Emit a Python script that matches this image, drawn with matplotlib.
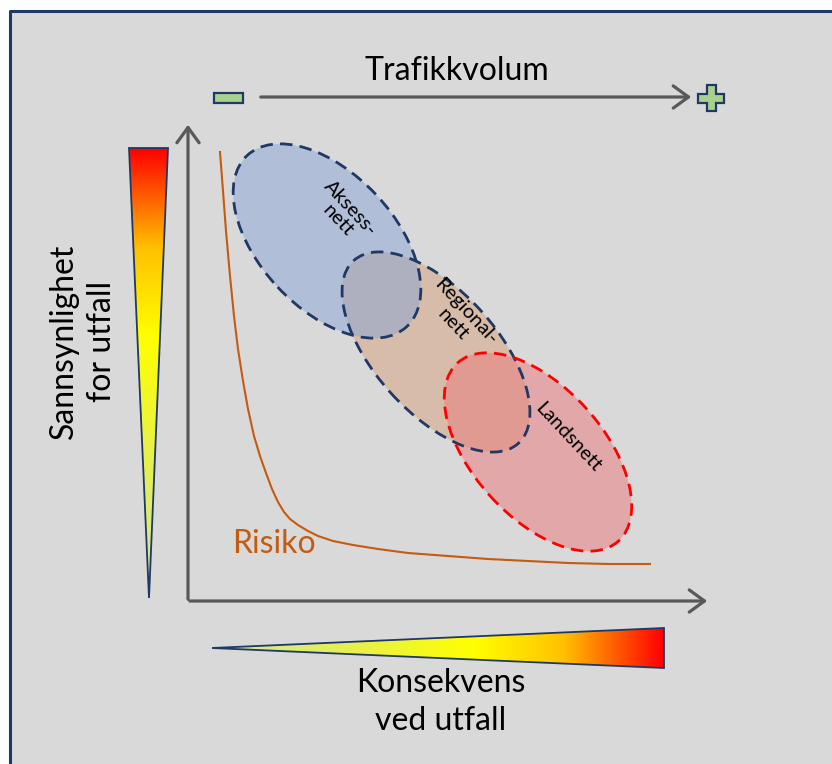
import numpy as np
import matplotlib.pyplot as plt
from matplotlib.patches import Ellipse, Polygon, Rectangle, FancyArrowPatch
from matplotlib.colors import LinearSegmentedColormap

plt.rcParams['font.family'] = ['Lato', 'DejaVu Sans']

# risikokurve (konsekvens, sannsynlighet)
risk_x = [32, 35, 38, 42, 46, 50, 55, 60, 66, 72, 78, 84, 90, 96, 102, 110, 120, 130,
          145, 165, 190, 220, 260, 300, 340, 380, 420, 462]
risk_y = [449, 410, 370, 325, 285, 252, 220, 192, 165, 145, 128, 112, 99, 89, 82, 76,
          70, 65, 60, 56, 52, 48, 45, 42, 40, 38, 37, 37]

# nettnivaa som ellipser i samme rom
net_labels = ["Aksess-\nnett", "Regional-\nnett", "Landsnett"]
net_cx = [139, 248, 350]
net_cy = [360, 249, 149]
net_w = [234, 246, 240]
net_h = [135, 122, 130]
net_angle = [-47, -48, -48]
net_face = ['#8aa5d6', '#d5a17b', '#eb797b']
net_edge = ['#1f3864', '#1f3864', '#ff0000']
net_z = [3, 2, 4]
label_x = [156, 271, 380]
label_y = [387, 283, 164]

W, H = 832, 764
fig = plt.figure(figsize=(W / 100, H / 100), dpi=100)

# bakgrunn i pikselkoordinater
bg = fig.add_axes([0, 0, 1, 1])
bg.set_xlim(0, W)
bg.set_ylim(H, 0)
bg.axis('off')
bg.add_patch(Rectangle((10, 11), W, H, facecolor='#d9d9d9', edgecolor='none', zorder=0))
bg.plot([10, 10, W], [H, 11, 11], color='#1f3864', lw=2.2, solid_capstyle='butt', zorder=1)

grey = '#595959'


def arrow(ax, p0, p1):
    a = FancyArrowPatch(p0, p1, arrowstyle='->,head_length=11,head_width=8',
                        mutation_scale=1, color=grey, lw=2.3, zorder=3)
    ax.add_patch(a)


arrow(bg, (188, 602), (188, 122))
arrow(bg, (187, 601), (710, 601))
arrow(bg, (258, 97), (694, 97))

# minus og pluss
bg.add_patch(Rectangle((214, 93), 29, 10, facecolor='#a9d18e', edgecolor='#1f3864', lw=1.6, zorder=4))
px, py, s, t = 711, 98, 13, 4.5
plus = [(px - t, py - s), (px + t, py - s), (px + t, py - t), (px + s, py - t), (px + s, py + t),
        (px + t, py + t), (px + t, py + s), (px - t, py + s), (px - t, py + t), (px - s, py + t),
        (px - s, py - t), (px - t, py - t)]
bg.add_patch(Polygon(plus, closed=True, facecolor='#a9d18e', edgecolor='#1f3864', lw=1.6, zorder=4))

# gradient-trekanter
cmap = LinearSegmentedColormap.from_list(
    'risk', [(0, '#d2e8a4'), (0.3, '#e6f04e'), (0.58, '#ffff00'), (0.78, '#ffc000'), (1, '#ff0000')])

vtri = Polygon([(129, 148), (168, 148), (149, 598)], closed=True, facecolor='none',
               edgecolor='#1f3864', lw=1.3, zorder=3)
bg.add_patch(vtri)
im = bg.imshow(np.linspace(1, 0, 256)[:, None], cmap=cmap, extent=(129, 168, 598, 148),
               origin='upper', aspect='auto', zorder=2)
im.set_clip_path(vtri)

htri = Polygon([(212, 648), (664, 628), (664, 668)], closed=True, facecolor='none',
               edgecolor='#1f3864', lw=1.3, zorder=3)
bg.add_patch(htri)
im2 = bg.imshow(np.linspace(0, 1, 256)[None, :], cmap=cmap, extent=(212, 664, 668, 628),
                origin='upper', aspect='auto', zorder=2)
im2.set_clip_path(htri)
bg.set_xlim(0, W)
bg.set_ylim(H, 0)

# tekster
bg.text(457, 71, 'Trafikkvolum', fontsize=23, ha='center', va='center')
bg.text(83, 341, 'Sannsynlighet\nfor utfall', fontsize=23, rotation=90, ha='center', va='center',
        linespacing=1.3)
bg.text(441, 702, 'Konsekvens\nved utfall', fontsize=23, ha='center', va='center', linespacing=1.3)

# diagramflate
ax = fig.add_axes([188 / W, (H - 601) / H, (710 - 188) / W, (601 - 125) / H])
ax.set_xlim(0, 522)
ax.set_ylim(0, 476)
ax.axis('off')
ax.patch.set_alpha(0)

for i in range(len(net_labels)):
    ax.add_patch(Ellipse((net_cx[i], net_cy[i]), net_w[i], net_h[i], angle=net_angle[i],
                         facecolor=net_face[i], alpha=0.5, edgecolor='none', zorder=net_z[i]))
    ax.add_patch(Ellipse((net_cx[i], net_cy[i]), net_w[i], net_h[i], angle=net_angle[i],
                         facecolor='none', edgecolor=net_edge[i], lw=2.0, ls=(0, (4.5, 2.6)),
                         zorder=5))
    ax.text(label_x[i], label_y[i], net_labels[i], fontsize=14.5, rotation=-47,
            rotation_mode='anchor', ha='center', va='center', linespacing=1.05, zorder=6)

ax.plot(risk_x, risk_y, color='#c55a11', lw=1.5, zorder=1)
ax.text(44, 57, 'Risiko', color='#c55a11', fontsize=23, ha='left', va='center')

fig.savefig('out.png', dpi=100)
